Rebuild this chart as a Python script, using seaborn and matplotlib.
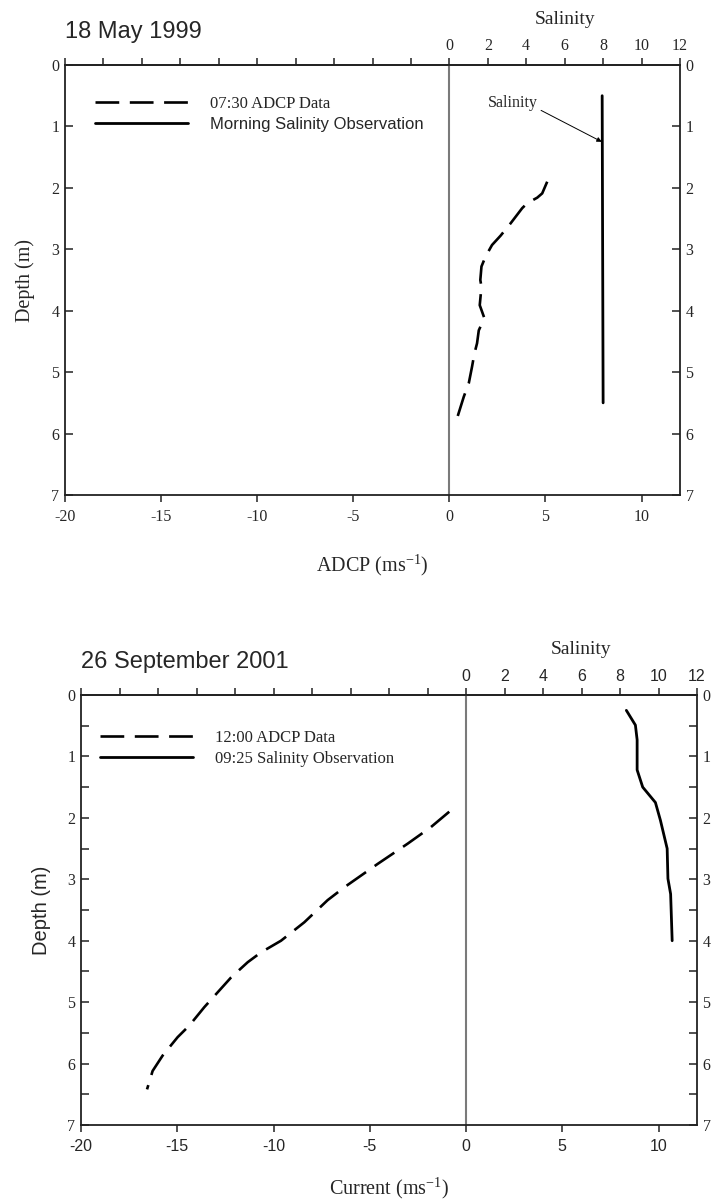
import numpy as np
import pandas as pd
import matplotlib
matplotlib.use("Agg")
import matplotlib.pyplot as plt
import seaborn as sns
from matplotlib.ticker import FixedLocator

# ---------------- data ----------------
may_adcp_current = [5.09, 4.83, 4.57, 4.05, 3.79, 3.18, 2.66, 2.22, 1.88, 1.67, 1.61, 1.67,
                    1.58, 1.82, 1.53, 1.44, 1.30, 1.18, 1.01, 0.75, 0.43]
may_adcp_depth = [1.90, 2.09, 2.16, 2.25, 2.33, 2.58, 2.78, 2.93, 3.12, 3.28, 3.50, 3.61,
                  3.91, 4.12, 4.32, 4.53, 4.70, 4.91, 5.18, 5.40, 5.72]
may_sal_value = [7.95, 8.0]
may_sal_depth = [0.5, 5.5]

sep_adcp_current = [-0.87, -1.82, -3.03, -4.59, -6.32, -7.19, -8.40, -9.61, -10.65, -11.34,
                    -12.21, -12.90, -13.59, -14.37, -14.98, -15.76, -16.28, -16.57]
sep_adcp_depth = [1.90, 2.15, 2.42, 2.75, 3.13, 3.34, 3.70, 4.00, 4.19, 4.35,
                  4.60, 4.84, 5.08, 5.38, 5.57, 5.87, 6.12, 6.42]
sep_sal_value = [8.33, 8.80, 8.89, 8.89, 9.18, 9.84, 10.10, 10.45, 10.49, 10.63, 10.71]
sep_sal_depth = [0.25, 0.49, 0.73, 1.22, 1.50, 1.75, 2.04, 2.50, 2.99, 3.24, 4.00]

titles = ["18 May 1999", "26 September 2001"]
legend_labels = [["07:30 ADCP Data", "Morning Salinity Observation"],
                 ["12:00 ADCP Data", "09:25 Salinity Observation"]]
xlabels = [r"ADCP (ms$^{\mathrm{-1}}$)", r"Current (ms$^{\mathrm{-1}}$)"]
current_ticks = [-20, -15, -10, -5, 0, 5, 10]
salinity_ticks = [0, 2, 4, 6, 8, 10, 12]
top_minor_ticks = [-20, -18, -16, -14, -12, -10, -8, -6, -4, -2]
depth_ticks = [0, 1, 2, 3, 4, 5, 6, 7]
depth_minor = [0.5, 1.5, 2.5, 3.5, 4.5, 5.5, 6.5]

# ---------------- style ----------------
sns.set_theme(style="ticks")
SERIF = ["Liberation Serif", "DejaVu Serif"]
SANS = ["Liberation Sans", "DejaVu Sans"]
plt.rcParams["font.family"] = SERIF
plt.rcParams["mathtext.fontset"] = "custom"
plt.rcParams["mathtext.rm"] = "Liberation Serif"
plt.rcParams["mathtext.it"] = "Liberation Serif:italic"
plt.rcParams["axes.edgecolor"] = "#222222"
plt.rcParams["axes.linewidth"] = 1.3

fig = plt.figure(figsize=(7.14, 12.03), dpi=100)
ax1 = fig.add_axes([65 / 714, 1 - 495 / 1203, 615 / 714, 430 / 1203])
ax2 = fig.add_axes([81 / 714, 1 - 1125 / 1203, 616 / 714, 430 / 1203])

DASH = (0, (9, 4))


def draw_panel(ax, adcp_x, adcp_y, sal_x, sal_y, title, labels, xlabel,
               xtick_font, sal_font, ylabel_font, legend_fonts, minor_y, legend_anchor,
               xlabelpad):
    ax.axvline(0, color="#7a7a7a", lw=1.5, zorder=1)
    sns.lineplot(x=adcp_x, y=adcp_y, sort=False, estimator=None, orient="y", ax=ax,
                 color="black", lw=1.9, linestyle=DASH, zorder=3)
    sns.lineplot(x=sal_x, y=sal_y, sort=False, estimator=None, orient="y", ax=ax,
                 color="black", lw=2.0, zorder=3)
    ax.set_xlim(-20, 12)
    ax.set_ylim(7, 0)
    ax.set_xticks(current_ticks)
    ax.set_xticklabels([str(t) for t in current_ticks])
    ax.set_yticks(depth_ticks)
    ax.set_yticklabels([str(t) for t in depth_ticks])
    if minor_y:
        ax.yaxis.set_minor_locator(FixedLocator(depth_minor))
    ax.tick_params(axis="x", which="major", direction="out", length=5, width=1.1,
                   labelsize=11.5, pad=5, labelfontfamily=xtick_font, color="#222222")
    ax.tick_params(axis="y", which="both", direction="in", left=True, right=True,
                   labelleft=True, labelright=True, length=6, width=1.1,
                   labelsize=11.5, pad=4, labelfontfamily=SERIF, color="#222222")
    ax.tick_params(axis="y", which="minor", length=6, labelleft=False, labelright=False)
    ax.set_xlabel(xlabel, fontsize=14.5, fontfamily=SERIF, labelpad=xlabelpad)
    ax.set_ylabel("Depth (m)", fontsize=14.5, fontfamily=ylabel_font, labelpad=12)
    ax.grid(False)

    sec = ax.secondary_xaxis("top")
    sec.set_xticks(top_minor_ticks + salinity_ticks)
    sec.set_xticklabels(["" for _ in top_minor_ticks] + [str(t) for t in salinity_ticks])
    sec.tick_params(direction="out", length=5, width=1.1, labelsize=11.5, pad=3,
                    labelfontfamily=sal_font, color="#222222")
    ax.text(6, 1.0 + 46 / 430, "Salinity", transform=ax.get_xaxis_transform(),
            ha="center", va="center", fontsize=14, fontfamily=SERIF)
    ax.text(0.0, 1.0 + 33 / 430, title, transform=ax.transAxes, ha="left",
            va="center", fontsize=17, fontfamily=SANS)

    handles = ax.get_lines()[1:3]
    leg = ax.legend(handles, labels, loc="upper left", bbox_to_anchor=legend_anchor,
                    frameon=False, fontsize=12, handlelength=5.6, handletextpad=1.3,
                    labelspacing=0.28, borderpad=0, borderaxespad=0)
    for t, f in zip(leg.get_texts(), legend_fonts):
        t.set_fontfamily(f)
    return ax


draw_panel(ax1, may_adcp_current, may_adcp_depth, may_sal_value, may_sal_depth,
           titles[0], legend_labels[0], xlabels[0], SERIF, SERIF, SERIF,
           [SERIF, SANS], False, (30 / 615, 1 - 31 / 430), 20)
ax1.annotate("Salinity", xy=(7.93, 1.25), xytext=(4.6, 0.62),
             ha="right", va="center", fontsize=11.5, fontfamily=SERIF,
             arrowprops=dict(arrowstyle="-|>", lw=0.7, color="black",
                             shrinkA=0, shrinkB=0, mutation_scale=7,
                             relpos=(1.0, 0.15)))

draw_panel(ax2, sep_adcp_current, sep_adcp_depth, sep_sal_value, sep_sal_depth,
           titles[1], legend_labels[1], xlabels[1], SANS, SANS, SANS,
           [SERIF, SERIF], True, (19 / 616, 1 - 35 / 430), 16)

fig.savefig("out.png", dpi=100)
